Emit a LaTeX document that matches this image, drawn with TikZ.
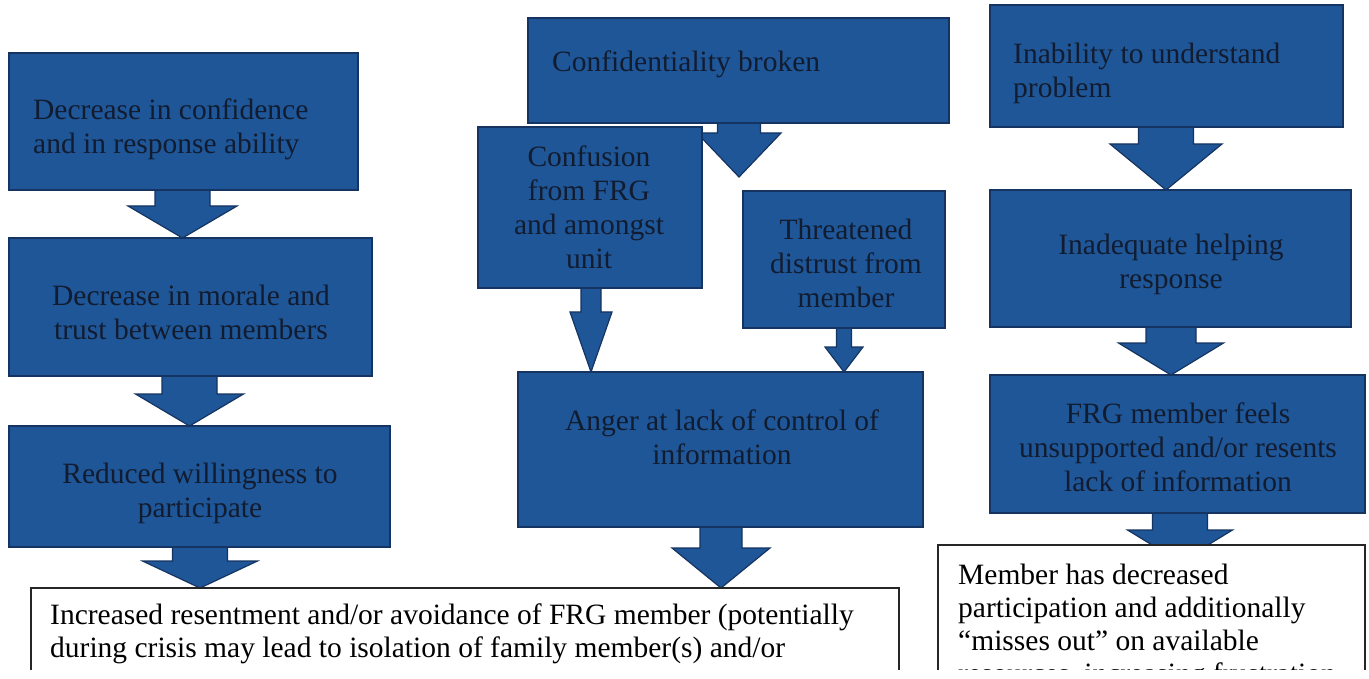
\documentclass[tikz,border=0pt]{standalone}
\usepackage{fontspec}
\setmainfont{Liberation Serif}
\usetikzlibrary{calc}
\definecolor{boxblue}{RGB}{30,86,152}
\definecolor{boxedge}{RGB}{22,52,98}
\definecolor{boxtext}{RGB}{18,28,48}
\pgfdeclarelayer{bg}
\pgfsetlayers{bg,main}
\tikzset{
  blk/.style={rectangle, fill=boxblue, draw=boxedge, line width=1.2pt, inner sep=0pt, outer sep=0pt},
  wbox/.style={rectangle, fill=white, draw=black!85, line width=1.2pt, inner sep=0pt, outer sep=0pt},
  arr/.style={fill=boxblue, draw=boxedge, line width=1.2pt, line join=miter},
  btxt/.style={font=\fontsize{29.5}{34}\selectfont, text=boxtext, inner sep=0pt},
  wtxt/.style={font=\fontsize{29.5}{33}\selectfont, text=black, inner sep=0pt, align=left, anchor=north west},
}
% box: style, name, x1, y1, x2, y2 (pixel coordinates)
\newcommand\bx[6][blk]{\node[#1, minimum width={(#5-#3)*1pt}, minimum height={(#6-#4)*1pt}] (#2) at ({(#3+#5)/2},{(#4+#6)/2}) {};}
% block arrow: from node, to coordinate, centre x, shaft half width, head half width, head length
\newcommand\barrow[6]{%
\begin{pgfonlayer}{bg}
\path (#3,0 |- #1.south) coordinate (s) (#3,0 |- #2) coordinate (e);
\filldraw[arr] ($(s)+(-#4,-3)$) -- ($(s)+(#4,-3)$) -- ($(e)+(#4,-#6)$) -- ($(e)+(#5,-#6)$) -- (e) -- ($(e)+(-#5,-#6)$) -- ($(e)+(-#4,-#6)$) -- cycle;
\end{pgfonlayer}}
\begin{document}
\begin{tikzpicture}[x=1pt,y=-1pt]
\useasboundingbox (0,0) rectangle (1369,679);
\begin{pgfonlayer}{bg}
\fill[white] (0,0) rectangle (1369,679);
\end{pgfonlayer}
\begin{scope}
\clip (0,0) rectangle (1369,669);
% left column
\bx{A}{9}{53}{358}{190}
\bx{B}{9}{238}{372}{376}
\bx{C}{9}{426}{390}{547}
% middle column
\bx{Conf}{528}{18}{949}{123}
\bx{Cfu}{478}{127}{702}{288}
\bx{Thr}{743}{191}{945}{328}
\bx{Ang}{518}{372}{923}{527}
% right column
\bx{Inab}{990}{5}{1343}{127}
\bx{Inad}{990}{190}{1351}{327}
\bx{FRG}{990}{375}{1365}{513}
% bottom boxes
\bx[wbox]{bot1}{31}{588}{899}{720}
\bx[wbox]{bot2}{938}{545}{1365}{720}
\coordinate (cbtip) at (740,177);
\coordinate (frgtip) at (1180,562);
% arrows
\barrow{A}{B.north}{182.5}{27.5}{54.5}{32}
\barrow{B}{C.north}{189.5}{27.5}{54}{32}
\barrow{C}{bot1.north}{200}{27.5}{57.5}{27}
\barrow{Conf}{cbtip}{739}{21.5}{42}{44}
\barrow{Cfu}{Ang.north}{591}{10}{21}{60}
\barrow{Thr}{Ang.north}{844}{7.5}{19}{25}
\barrow{Ang}{bot1.north}{721}{21}{49}{40}
\barrow{Inab}{Inad.north}{1166}{27.5}{56}{46}
\barrow{Inad}{FRG.north}{1171}{25}{52.5}{32}
\barrow{FRG}{frgtip}{1180}{27.5}{52.5}{32}
% texts
\node[btxt, anchor=north west, align=left] (tA) at (33,96) {\strut Decrease in confidence\\and in response ability};
\node[btxt, anchor=north, align=center] (tB) at (191,281) {\strut Decrease in morale and\\trust between members};
\node[btxt, anchor=north, align=center] (tC) at (200,459) {\strut Reduced willingness to\\participate};
\node[btxt, anchor=north west, align=left] (tConf) at (552,48) {\strut Confidentiality broken};
\node[btxt, anchor=north, align=center] (tCfu) at (589,143) {\strut Confusion\\from FRG\\and amongst\\unit};
\node[btxt, anchor=north, align=center] (tThr) at (846,216) {\strut Threatened\\distrust from\\member};
\node[btxt, anchor=north, align=center] (tAng) at (722,406) {\strut Anger at lack of control of\\information};
\node[btxt, anchor=north west, align=left] (tInab) at (1013,40) {\strut Inability to understand\\problem};
\node[btxt, anchor=north, align=center] (tInad) at (1171,231) {\strut Inadequate helping\\response};
\node[btxt, anchor=north, align=center] (tFRG) at (1178,399) {\strut FRG member feels\\unsupported and/or resents\\lack of information};
\node[wtxt] (tBot1) at (50,601) {\strut Increased resentment and/or avoidance of FRG member (potentially\\during crisis may lead to isolation of family member(s) and/or};
\node[wtxt] (tBot2) at (958,561) {\strut Member has decreased\\participation and additionally\\``misses out'' on available\\resources, increasing frustration};
\end{scope}
\end{tikzpicture}
\end{document}
